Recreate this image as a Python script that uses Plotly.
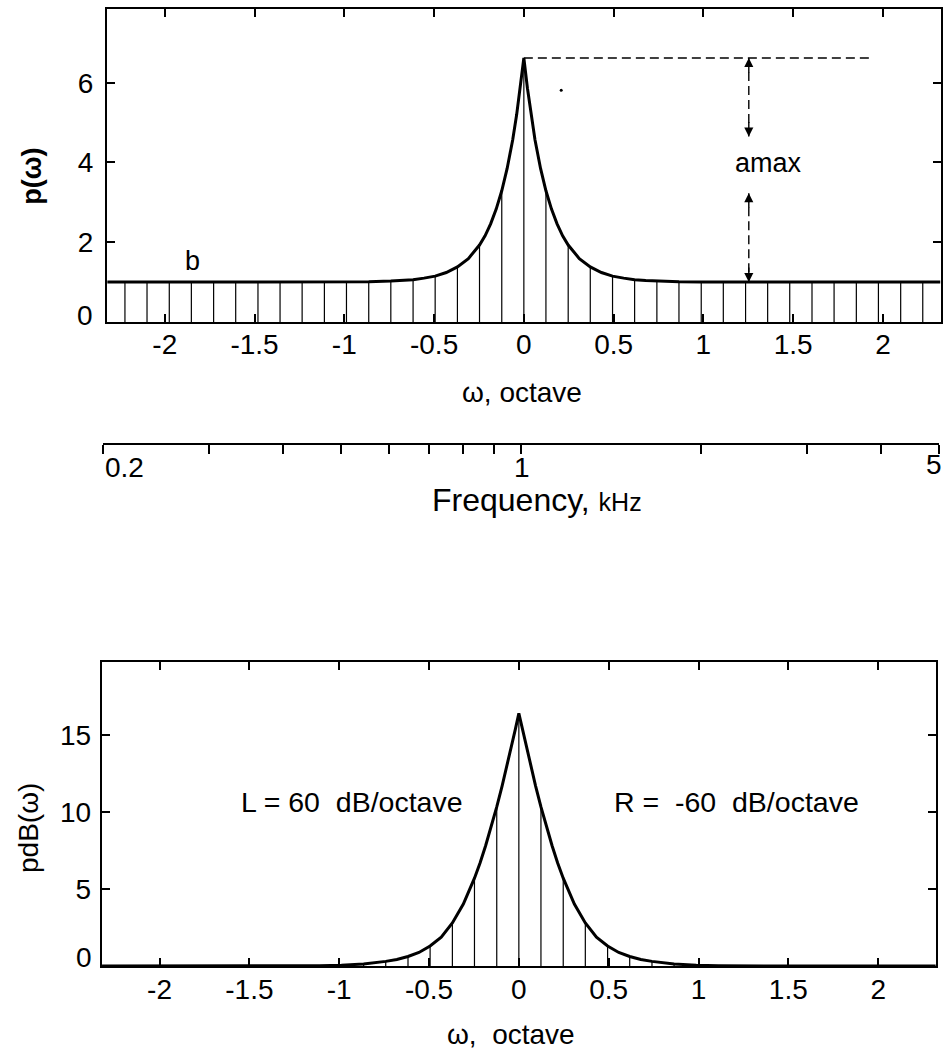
import plotly.graph_objects as go

# ---------------- data ----------------
# dense samples of the curve, in octaves
curve_x = [-2.32, -2.0, -1.5, -1.235, -1.111, -0.988, -0.864, -0.741, -0.679, -0.617,
           -0.556, -0.494, -0.432, -0.37, -0.309, -0.247, -0.216, -0.185, -0.154, -0.123,
           -0.093, -0.062, -0.04, -0.02, 0.0, 0.02, 0.04, 0.062, 0.093, 0.123, 0.154,
           0.185, 0.216, 0.247, 0.309, 0.37, 0.432, 0.494, 0.556, 0.617, 0.679, 0.741,
           0.864, 0.988, 1.111, 1.235, 1.5, 2.0, 2.32]
# p(omega), linear
p_curve = [1.0, 1.0, 1.0, 1.0, 1.0, 1.004, 1.01, 1.025, 1.04, 1.06,
           1.10, 1.15, 1.24, 1.38, 1.59, 1.93, 2.16, 2.46, 2.83, 3.29,
           3.85, 4.57, 5.20, 5.86, 6.62, 5.86, 5.20, 4.57, 3.85, 3.29, 2.83,
           2.46, 2.16, 1.93, 1.59, 1.38, 1.24, 1.15, 1.10, 1.06, 1.04, 1.025,
           1.01, 1.004, 1.0, 1.0, 1.0, 1.0, 1.0]
# pdB(omega)
pdb_curve = [0.0, 0.0, 0.0, 0.0, 0.02, 0.05, 0.13, 0.30, 0.42, 0.62,
             0.88, 1.30, 1.87, 2.80, 4.03, 5.71, 6.69, 7.82, 9.04, 10.34,
             11.71, 13.2, 14.32, 15.36, 16.42, 15.36, 14.32, 13.2, 11.71, 10.34, 9.04,
             7.82, 6.69, 5.71, 4.03, 2.80, 1.87, 1.30, 0.88, 0.62, 0.42, 0.30,
             0.13, 0.05, 0.02, 0.0, 0.0, 0.0, 0.0]

# sampled stems
stem_x = [-2.222, -2.099, -1.975, -1.852, -1.728, -1.605, -1.481, -1.358, -1.235,
          -1.111, -0.988, -0.864, -0.741, -0.617, -0.494, -0.370, -0.247, -0.123,
          0.0,
          0.123, 0.247, 0.370, 0.494, 0.617, 0.741, 0.864, 0.988, 1.111,
          1.235, 1.358, 1.481, 1.605, 1.728, 1.852, 1.975, 2.099, 2.222]
p_stem = [1.0, 1.0, 1.0, 1.0, 1.0, 1.0, 1.0, 1.0, 1.0,
          1.0, 1.004, 1.01, 1.025, 1.06, 1.15, 1.38, 1.93, 3.29,
          6.62,
          3.29, 1.93, 1.38, 1.15, 1.06, 1.025, 1.01, 1.004, 1.0,
          1.0, 1.0, 1.0, 1.0, 1.0, 1.0, 1.0, 1.0, 1.0]
pdb_stem = [0.0, 0.0, 0.0, 0.0, 0.0, 0.0, 0.0, 0.0, 0.0,
            0.02, 0.05, 0.13, 0.30, 0.62, 1.30, 2.80, 5.71, 10.34,
            16.42,
            10.34, 5.71, 2.80, 1.30, 0.62, 0.30, 0.13, 0.05, 0.02,
            0.0, 0.0, 0.0, 0.0, 0.0, 0.0, 0.0, 0.0, 0.0]

oct_ticks = [-2, -1.5, -1, -0.5, 0, 0.5, 1, 1.5, 2]
oct_labels = ["-2", "-1.5", "-1", "-0.5", "0", "0.5", "1", "1.5", "2"]
p_ticks = [2, 4, 6]
pdb_ticks = [5, 10, 15]
freq_ticks = [0.2, 0.3, 0.4, 0.5, 0.6, 0.7, 0.8, 0.9, 1, 2, 3, 4, 5]
freq_labels = ["0.2", "1", "5"]

amax_peak = 6.62
baseline_b = 1.0

# ---------------- geometry ----------------
W, H = 951, 1056
FONT = "Liberation Sans, Arial, Helvetica, sans-serif"
TF = 28


def px(x):
    return x / W


def py(y):
    return 1 - y / H


def stems(xs, ys):
    sx, sy = [], []
    for x, y in zip(xs, ys):
        sx += [x, x, None]
        sy += [0, y, None]
    return sx, sy


fig = go.Figure()

# top plot
sx, sy = stems(stem_x, p_stem)
fig.add_trace(go.Scatter(x=sx, y=sy, mode="lines", line=dict(color="black", width=1.2),
                         xaxis="x", yaxis="y", hoverinfo="skip"))
fig.add_trace(go.Scatter(x=curve_x, y=p_curve, mode="lines", line=dict(color="black", width=3),
                         xaxis="x", yaxis="y"))
fig.add_trace(go.Scatter(x=[0, 1.94], y=[amax_peak, amax_peak], mode="lines",
                         line=dict(color="black", width=1.4, dash="9px,5px"), xaxis="x", yaxis="y"))
fig.add_trace(go.Scatter(x=[1.253, 1.253], y=[amax_peak, 4.65], mode="lines",
                         line=dict(color="black", width=1.4, dash="9px,5px"), xaxis="x", yaxis="y"))
fig.add_trace(go.Scatter(x=[1.253, 1.253], y=[3.23, baseline_b], mode="lines",
                         line=dict(color="black", width=1.4, dash="9px,5px"), xaxis="x", yaxis="y"))
fig.add_trace(go.Scatter(x=[0.208], y=[5.81], mode="markers", marker=dict(color="black", size=3),
                         xaxis="x", yaxis="y"))

# bottom plot
sx2, sy2 = stems(stem_x, pdb_stem)
fig.add_trace(go.Scatter(x=sx2, y=sy2, mode="lines", line=dict(color="black", width=1.2),
                         xaxis="x2", yaxis="y2"))
fig.add_trace(go.Scatter(x=curve_x, y=pdb_curve, mode="lines", line=dict(color="black", width=3),
                         xaxis="x2", yaxis="y2"))

# frequency axis carrier (invisible)
fig.add_trace(go.Scatter(x=[freq_ticks[0], freq_ticks[-1]], y=[0, 0], mode="lines",
                         line=dict(color="rgba(0,0,0,0)", width=0), xaxis="x3", yaxis="y3"))

ax_common = dict(showline=True, linecolor="black", linewidth=2, mirror="ticks",
                 ticks="inside", ticklen=8, tickwidth=1.5, tickcolor="black",
                 showgrid=False, zeroline=False,
                 tickfont=dict(family=FONT, size=TF, color="black"))

OR = 2.3219
fig.update_layout(
    width=W, height=H, margin=dict(l=0, r=0, t=0, b=0),
    paper_bgcolor="white", plot_bgcolor="white", showlegend=False,
    font=dict(family=FONT, color="black"),
    xaxis=dict(ax_common, domain=[px(107), px(940.7)], range=[-OR, OR], anchor="y",
               tickvals=oct_ticks, ticktext=oct_labels, ticklabelstandoff=-4),
    yaxis=dict(ax_common, domain=[py(322), py(9.3)], range=[0, 7.84], anchor="x",
               tickvals=p_ticks, ticklabelstandoff=6),
    xaxis2=dict(ax_common, domain=[px(101.7), px(936)], range=[-OR, OR], anchor="y2",
                tickvals=oct_ticks, ticktext=oct_labels, ticklabelstandoff=-3),
    yaxis2=dict(ax_common, domain=[py(966), py(662.3)], range=[0, 19.74], anchor="x2",
                tickvals=pdb_ticks, ticklabelstandoff=3),
    xaxis3=dict(type="log", domain=[px(103.3), px(939.3)],
                range=[-0.69897, 0.69897], anchor="y3",
                showline=True, linecolor="black", linewidth=2, ticks="outside",
                ticklen=9, tickwidth=1.5, tickcolor="black", tickvals=freq_ticks,
                showticklabels=False, showgrid=False, zeroline=False),
    yaxis3=dict(domain=[py(443.3), py(433)], visible=False, anchor="x3", range=[0, 1]),
)

ann = []


def txt(text, x, y, size, xref="paper", yref="paper", xanchor="center", yanchor="middle",
        angle=0, xshift=0, yshift=0, bold=False):
    if bold:
        text = "<b>" + text + "</b>"
    ann.append(dict(text=text, x=x, y=y, xref=xref, yref=yref, xanchor=xanchor,
                    yanchor=yanchor, textangle=angle, showarrow=False, xshift=xshift,
                    yshift=yshift, font=dict(family=FONT, size=size, color="black")))


# raised zero labels
txt("0", px(95), 0, TF, yref="y", xanchor="right", yshift=7)
txt("0", px(94.3), 0, TF, yref="y2", xanchor="right", yshift=9)

# axis titles
txt("p(ω)", px(31.7), py(176), 27, angle=-90, bold=True)
txt("ω, octave", px(522), py(393), TF)
txt("Frequency, <span style='font-size:25px'>kHz</span>", px(537), py(500), 32)
txt("pdB(ω)", px(28), py(828), TF, angle=-90)
txt("ω,\u00a0\u00a0octave", px(511), py(1034), TF)

# frequency tick labels
txt(freq_labels[0], px(103.3), py(467), TF, xanchor="left")
txt(freq_labels[1], px(521.7), py(467), TF)
txt(freq_labels[2], px(944), py(464), TF, xanchor="right")

# in-plot labels
txt("b", -1.845, 1.52, 27, xref="x", yref="y")
txt("amax", 1.36, 3.98, 27, xref="x", yref="y")
txt("L = 60\u00a0\u00a0dB/octave", -0.926, 10.69, 28.5, xref="x2", yref="y2")
txt("R =\u00a0\u00a0-60\u00a0\u00a0dB/octave", 1.213, 10.69, 28.5, xref="x2", yref="y2")

# arrow heads for the amax marker
for yv, ay in [(amax_peak, 16), (4.65, -16), (3.23, 16), (baseline_b, -16)]:
    ann.append(dict(x=1.253, y=yv, xref="x", yref="y", ax=0, ay=ay, text="",
                    showarrow=True, arrowhead=2, arrowsize=1.3, arrowwidth=1.4,
                    arrowcolor="black"))

fig.update_layout(annotations=ann)
fig.write_html("out.html")
